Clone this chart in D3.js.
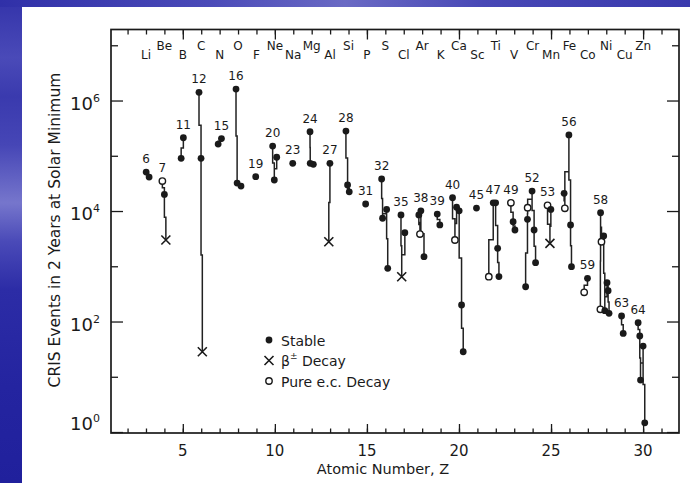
<!DOCTYPE html>
<html><head><meta charset="utf-8">
<script src="https://cdn.jsdelivr.net/npm/d3@7"></script>
<style>
body{margin:0;background:#fff;}
svg{display:block;}
text{font-family:"DejaVu Sans",sans-serif;fill:#1a1a1a;}
</style>
</head><body>
<svg id="chart" width="690" height="483"></svg>
<script>
// ---------- data ----------
const elementSymbols = ["Li","Be","B","C","N","O","F","Ne","Na","Mg","Al","Si","P","S","Cl","Ar","K","Ca","Sc","Ti","V","Cr","Mn","Fe","Co","Ni","Cu","Zn"];
const elementZ = [3,4,5,6,7,8,9,10,11,12,13,14,15,16,17,18,19,20,21,22,23,24,25,26,27,28,29,30];

// isotopes (grouped by element, in mass order)
const isoElement = [3,3, 4,4,4, 5,5, 6,6,6, 7,7, 8,8,8, 9, 10,10,10, 11, 12,12,12, 13,13, 14,14,14, 15,
  16,16,16,16, 17,17,17, 18,18,18,18, 19,19, 20,20,20,20,20,20, 21, 22,22,22,22,22, 23,23,23,
  24,24,24,24,24,24, 25,25,25, 26,26,26,26,26, 27,27, 28,28,28,28,28,28,28,28, 29,29, 30,30,30,30,30];
// plotted position on the atomic-number axis (slightly offset by mass)
const isoZpos = [3.01,3.17, 3.89,4.00,4.08, 4.91,5.03, 5.88,5.99,6.06, 6.92,7.10, 7.89,7.95,8.16, 8.96,
  9.88,9.97,10.10, 10.97, 11.91,11.92,12.09, 12.93,12.99, 13.86,13.95,14.04, 14.93,
  15.80,15.85,16.07,16.13, 16.85,16.89,17.06, 17.82,17.88,17.93,18.10, 18.82,18.96,
  19.65,19.78,19.87,20.01,20.14,20.23, 20.95, 21.62,21.86,21.99,22.10,22.17, 22.82,22.94,23.04,
  23.62,23.72,23.73,23.97,24.08,24.16, 24.81,24.94,24.99, 25.71,25.75,25.97,26.06,26.11,
  26.80,26.98, 27.68,27.69,27.74,27.86,27.92,28.04,28.10,28.15, 28.83,28.92, 29.73,29.82,29.86,30.00,30.09];
// events in 2 years
const isoEvents = [5.08e4,4.12e4, 3.49e4,2.0e4,2.99e3, 9.0e4,2.12e5, 1.41e6,9.0e4,28.4, 1.63e5,2.05e5,
  1.61e6,3.2e4,2.83e4, 4.18e4, 1.5e5,3.64e4,9.4e4, 7.3e4, 2.72e5,7.3e4,7.0e4, 2.78e3,7.3e4,
  2.8e5,2.96e4,2.23e4, 1.34e4, 3.8e4,7.4e3,1.07e4,919, 8.5e3,647,4.05e3, 8.5e3,3.83e3,1.01e4,1.49e3,
  8.8e3,5.6e3, 1.74e4,2.99e3,1.17e4,1.01e4,199,28.4, 1.13e4, 647,1.41e4,1.41e4,2.11e3,650,
  1.41e4,6.4e3,4.53e3, 426,7.08e3,1.15e4,2.3e4,4.53e3,1.16e3, 1.27e4,2.6e3,1.07e4,
  2.09e4,1.12e4,2.38e5,5.58e3,982, 338,605, 166,9.3e3,2.78e3,3.53e3,157,504,361,141,
  126,61, 95,54.7,8.7,36,1.47];
// s = stable, b = beta decay, e = pure electron-capture decay
const isoType = ["s","s", "e","s","b", "s","s", "s","s","b", "s","s", "s","s","s", "s", "s","s","s", "s",
  "s","s","s", "b","s", "s","s","s", "s", "s","s","s","s", "s","b","s", "s","e","s","s", "s","s",
  "s","e","s","s","s","s", "s", "e","s","s","s","s", "e","s","s", "s","s","e","s","s","s", "e","b","s",
  "s","e","s","s","s", "e","s", "e","s","e","s","s","s","s","s", "s","s", "s","s","s","s","s"];
const isoLabel = ["6","", "7","","", "","11", "12","","", "","15", "16","","", "19", "20","","", "23",
  "24","","", "","27", "28","","", "31", "32","","","", "35","","", "","","38","", "39","",
  "40","","","","","", "45", "","47","","","", "49","","", "","","","52","","", "53","","",
  "","","56","","", "","59", "","58","","","","","","", "63","", "64","","","",""];

const xMajorTicks = [5,10,15,20,25,30];
const xMinorTicks = d3.range(2,32);
const yMajorTicks = [1,1e2,1e4,1e6];
const yMinorTicks = [10,1e3,1e5,1e7];
const yTickExponents = ["0","2","4","6"];

const legendItems = [{t:"s",label:"Stable"},{t:"b",label:"β",sup:"±",rest:" Decay"},{t:"e",label:"Pure e.c. Decay"}];

// ---------- drawing ----------
const svg = d3.select("#chart");
const W = 690, H = 483;
const defs = svg.append("defs");
const lg = defs.append("linearGradient").attr("id","leftG").attr("x1",0).attr("y1",0).attr("x2",0).attr("y2",1);
[[0,"#3434aa"],[0.12,"#4a4ab8"],[0.2,"#3a3aae"],[0.3,"#4646b6"],[0.42,"#7676cc"],[0.5,"#4a4ab8"],[0.6,"#2c2ca6"],[0.8,"#2424a0"],[1,"#20209c"]]
  .forEach(([o,c])=>lg.append("stop").attr("offset",o).attr("stop-color",c));
const tg = defs.append("linearGradient").attr("id","topG").attr("x1",0).attr("y1",0).attr("x2",1).attr("y2",0);
[[0,"#3030a8"],[0.3,"#4a4ab8"],[0.5,"#6a6ac4"],[0.7,"#4848b6"],[1,"#3a3aae"]]
  .forEach(([o,c])=>tg.append("stop").attr("offset",o).attr("stop-color",c));
svg.append("rect").attr("width",W).attr("height",H).attr("fill","#fff");
svg.append("rect").attr("x",0).attr("y",0).attr("width",22).attr("height",H).attr("fill","url(#leftG)");
svg.append("rect").attr("x",0).attr("y",0).attr("width",W).attr("height",7).attr("fill","url(#topG)");

const plot = {l:111, r:679, t:29.5, b:433};
const x = d3.scaleLinear().domain([1.1,31.95]).range([plot.l,plot.r]);
const y = d3.scaleLog().domain([0.96,1.93e7]).range([plot.b,plot.t]);
const ink = "#1a1a1a";

// axes (ticks pointing inward)
function styleAxis(g){ g.select(".domain").remove(); g.selectAll(".tick line").attr("stroke",ink).attr("stroke-width",1.3); g.selectAll(".tick text").remove(); }
svg.append("g").attr("transform",`translate(0,${plot.b})`).call(d3.axisBottom(x).tickValues(xMinorTicks).tickSize(-4.5)).call(styleAxis);
svg.append("g").attr("transform",`translate(0,${plot.b})`).call(d3.axisBottom(x).tickValues(xMajorTicks).tickSize(-9)).call(styleAxis);
svg.append("g").attr("transform",`translate(0,${plot.t})`).call(d3.axisTop(x).tickValues(xMinorTicks).tickSize(-5)).call(styleAxis);
svg.append("g").attr("transform",`translate(0,${plot.t})`).call(d3.axisTop(x).tickValues(xMajorTicks).tickSize(-10)).call(styleAxis);
svg.append("g").attr("transform",`translate(${plot.l},0)`).call(d3.axisLeft(y).tickValues(yMinorTicks).tickSize(-7)).call(styleAxis);
svg.append("g").attr("transform",`translate(${plot.l},0)`).call(d3.axisLeft(y).tickValues(yMajorTicks).tickSize(-12)).call(styleAxis);
svg.append("g").attr("transform",`translate(${plot.r},0)`).call(d3.axisRight(y).tickValues(yMinorTicks).tickSize(-7)).call(styleAxis);
svg.append("g").attr("transform",`translate(${plot.r},0)`).call(d3.axisRight(y).tickValues(yMajorTicks).tickSize(-12)).call(styleAxis);

svg.append("rect").attr("x",plot.l).attr("y",plot.t).attr("width",plot.r-plot.l).attr("height",plot.b-plot.t)
  .attr("fill","none").attr("stroke",ink).attr("stroke-width",1.7);

// x tick labels
svg.selectAll(".xl").data(xMajorTicks).join("text").attr("x",d=>x(d)).attr("y",plot.b+23)
  .attr("text-anchor","middle").attr("font-size",15).text(d=>d);
// y tick labels 10^n
yMajorTicks.forEach((v,i)=>{
  const t = svg.append("text").attr("x",plot.l-11).attr("y",y(v)+(v===1?-2:9)).attr("text-anchor","end").attr("font-size",18);
  t.append("tspan").text("10");
  t.append("tspan").attr("font-size",11).attr("dy",-8).text(yTickExponents[i]);
});

// axis titles
svg.append("text").attr("x",383).attr("y",474).attr("text-anchor","middle").attr("font-size",14.5).text("Atomic Number, Z");
svg.append("text").attr("transform","translate(60,230) rotate(-90)").attr("text-anchor","middle").attr("font-size",15.5)
  .text("CRIS Events in 2 Years at Solar Minimum");

// element symbols along the top, alternating heights
svg.selectAll(".el").data(elementSymbols).join("text")
  .attr("x",(d,i)=>x(elementZ[i])).attr("y",(d,i)=>plot.t+(i%2===0?29.5:20.5))
  .attr("text-anchor","middle").attr("font-size",12).text(d=>d);

// isotope records
const iso = isoZpos.map((p,i)=>({el:isoElement[i],pos:p,v:isoEvents[i],type:isoType[i],label:isoLabel[i]}));
const groups = d3.groups(iso,d=>d.el);

// connecting step lines within each element
function stepPath(pts){
  let s = "";
  pts.forEach((p,i)=>{
    const px = x(p.pos), py = y(p.v);
    if(i===0){ s += `M${px},${py}`; return; }
    const q = pts[i-1], qx = x(q.pos), qy = y(q.v), my = (qy+py)/2;
    s += `L${qx},${my}L${px},${my}L${px},${py}`;
  });
  return s;
}
svg.append("g").selectAll("path").data(groups.filter(g=>g[1].length>1)).join("path")
  .attr("d",g=>stepPath(g[1])).attr("fill","none").attr("stroke","#222").attr("stroke-width",1.5);

// markers
function drawMarker(sel,type){
  if(type==="s") sel.append("circle").attr("r",3.4).attr("fill",ink);
  else if(type==="e") sel.append("circle").attr("r",3.2).attr("fill","#fff").attr("stroke",ink).attr("stroke-width",1.4);
  else sel.append("path").attr("d","M-4.5,-4.5L4.5,4.5M-4.5,4.5L4.5,-4.5").attr("stroke",ink).attr("stroke-width",1.6).attr("fill","none");
}
svg.append("g").selectAll("g").data(iso).join("g")
  .attr("transform",d=>`translate(${x(d.pos)},${y(d.v)})`)
  .each(function(d){ drawMarker(d3.select(this),d.type); });

// mass-number labels
svg.append("g").selectAll("text").data(iso.filter(d=>d.label)).join("text")
  .attr("x",d=>x(d.pos)).attr("y",d=>y(d.v)-9).attr("text-anchor","middle").attr("font-size",12).text(d=>d.label);

// legend
const leg = svg.append("g").attr("transform","translate(269,340)");
legendItems.forEach((it,i)=>{
  const g = leg.append("g").attr("transform",`translate(0,${i*20.5})`);
  drawMarker(g,it.t);
  const t = g.append("text").attr("x",12).attr("y",5.5).attr("font-size",14);
  t.append("tspan").text(it.label);
  if(it.sup){ t.append("tspan").attr("font-size",9).attr("dy",-7).text(it.sup); t.append("tspan").attr("dy",7).text(it.rest); }
});
</script>
</body></html>
